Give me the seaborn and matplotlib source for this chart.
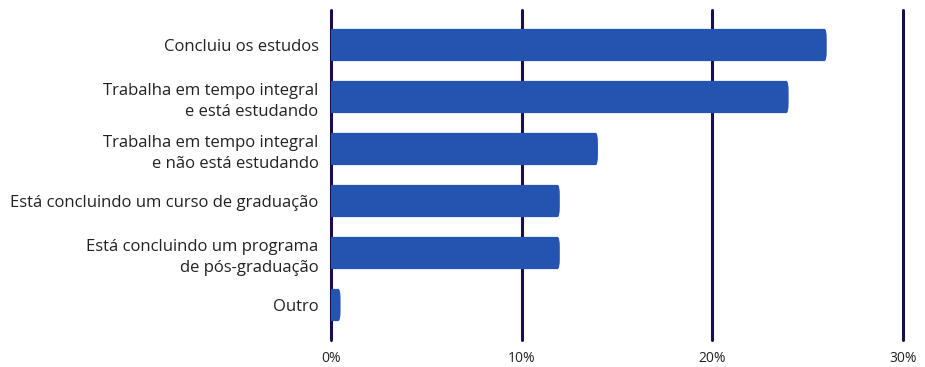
import matplotlib
matplotlib.use("Agg")
import matplotlib.pyplot as plt
import seaborn as sns
import pandas as pd
from matplotlib.patches import FancyBboxPatch

categories = [
    "Concluiu os estudos",
    "Trabalha em tempo integral\ne está estudando",
    "Trabalha em tempo integral\ne não está estudando",
    "Está concluindo um curso de graduação",
    "Está concluindo um programa\nde pós-graduação",
    "Outro",
]
values = [26, 24, 14, 12, 12, 0.5]
x_ticks = [0, 10, 20, 30]
x_tick_labels = ["0%", "10%", "20%", "30%"]

df = pd.DataFrame({"categoria": categories, "percentual": values})

sns.set_theme(style="white")
plt.rcParams["font.family"] = ["Open Sans", "DejaVu Sans"]

fig = plt.figure(figsize=(9.25, 3.67), dpi=100)
ax = fig.add_axes([331 / 925, 1 - 340 / 367, (903 - 331) / 925, 330 / 367])

bar_color = "#2453b0"
sns.barplot(data=df, x="percentual", y="categoria", orient="h",
            color=bar_color, width=0.62, saturation=1, ax=ax, zorder=3)

# Rounded right ends on each bar
for p in list(ax.patches):
    x0, y0 = p.get_x(), p.get_y()
    w, h = p.get_width(), p.get_height()
    p.set_visible(False)
    r = 0.12
    fb = FancyBboxPatch((x0, y0), w, h,
                        boxstyle=f"round,pad=0,rounding_size={r}",
                        mutation_aspect=(h / 0.62) * 1.6,
                        facecolor=bar_color, edgecolor="none", zorder=3)
    ax.add_patch(fb)
    # square off the left edge
    ax.add_patch(plt.Rectangle((x0, y0), min(w, 0.3), h, facecolor=bar_color,
                               edgecolor="none", zorder=3))

ax.set_xlim(0, 30)
ax.set_ylim(5 + 0.673, -0.673)
ax.set_xticks(x_ticks)
ax.set_xticklabels(x_tick_labels)
ax.set_xlabel("")
ax.set_ylabel("")

grid_color = "#1c0d4f"
for t in x_ticks:
    ax.axvline(t, color=grid_color, linewidth=2.2, zorder=2, clip_on=False)

for s in ax.spines.values():
    s.set_visible(False)

ax.tick_params(axis="x", length=0, pad=8, labelsize=10, labelcolor="#222222")
ax.tick_params(axis="y", length=0, pad=9, labelsize=12, labelcolor="#222222")
for lbl in ax.get_yticklabels():
    lbl.set_horizontalalignment("right")
    lbl.set_multialignment("right")
    lbl.set_linespacing(1.4)

fig.savefig("out.png", dpi=100, facecolor="white")
